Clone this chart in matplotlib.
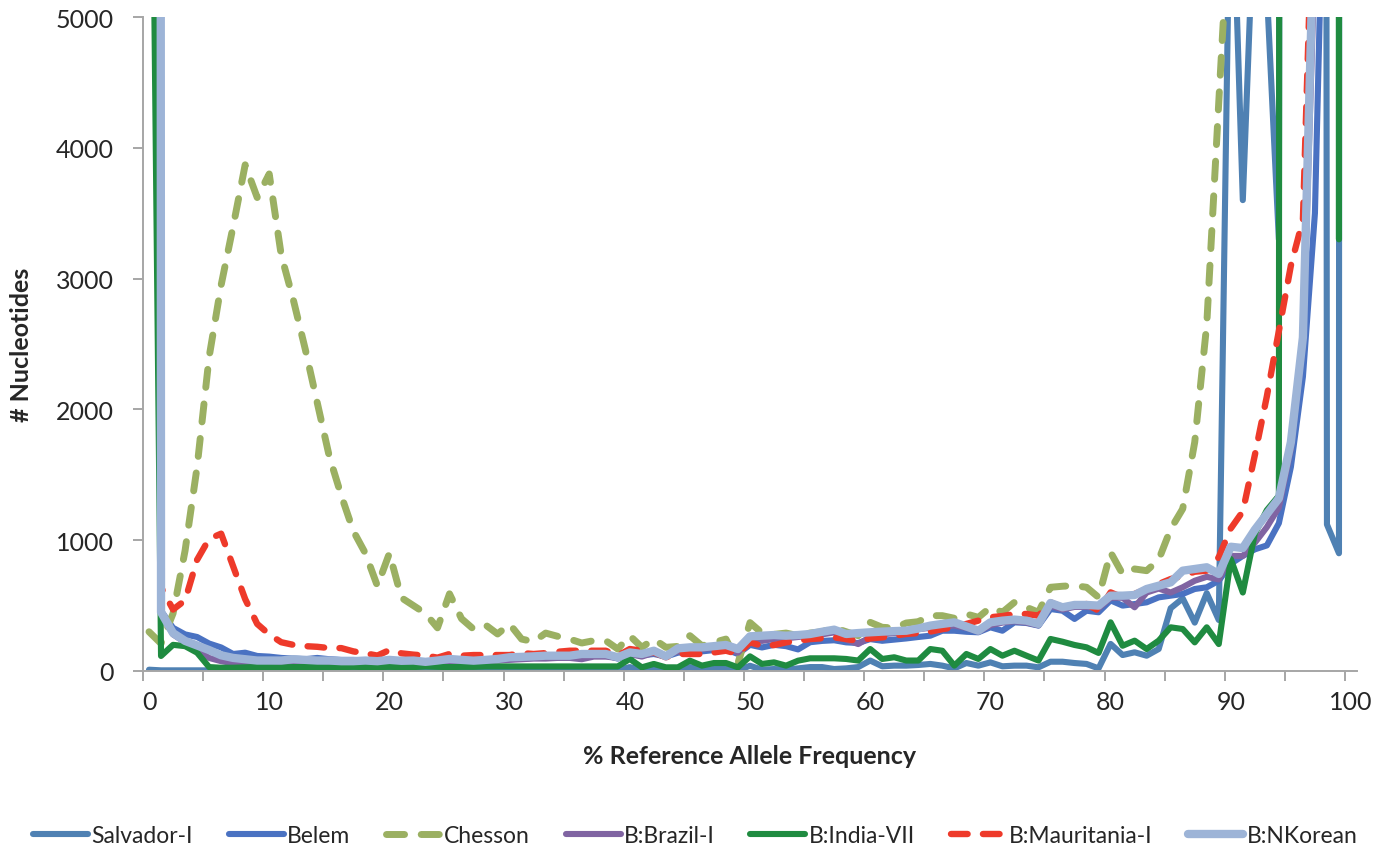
import numpy as np
import matplotlib
matplotlib.use("Agg")
import matplotlib.pyplot as plt

# ---------------- data ----------------
bins = list(range(101))  # % reference allele frequency bins (category i drawn at i+0.5)

salvador = [10, 5, 5, 5, 5, 5, 5, 5, 5, 5,
            5, 5, 5, 5, 5, 5, 5, 5, 5, 5,
            5, 5, 5, 5, 5, 5, 5, 5, 5, 5,
            5, 5, 5, 5, 5, 5, 5, 5, 5, 5,
            30, 5, 20, 5, 5, 30, 10, 15, 15, 5,
            40, 10, 15, 10, 20, 30, 30, 15, 20, 30,
            80, 36, 41, 41, 46, 54, 41, 20, 61, 41,
            66, 36, 41, 41, 28, 71, 71, 61, 54, 20,
            207, 122, 143, 117, 168, 480, 555, 370, 595, 390,
            6500, 3600, 6000, 5200, 3300, 60000, 90000, 100000, 1120, 900,
            300000]

belem = [150000, 460, 330, 280, 260, 210, 180, 130, 140, 115,
         110, 100, 95, 90, 100, 90, 85, 85, 80, 80,
         85, 80, 75, 70, 75, 80, 75, 75, 80, 85,
         90, 95, 100, 100, 105, 110, 115, 115, 120, 95,
         125, 120, 130, 110, 140, 145, 150, 160, 165, 130,
         200, 180, 200, 190, 165, 220, 230, 235, 219, 214,
         244, 231, 240, 249, 260, 270, 308, 308, 300, 296,
         334, 308, 372, 367, 347, 474, 461, 398, 461, 449,
         540, 500, 512, 525, 563, 576, 589, 627, 640, 690,
         820, 880, 930, 960, 1130, 1560, 2250, 3500, 7300, 20000,
         200000]

chesson = [300, 210, 440, 920, 1560, 2400, 2950, 3400, 3870, 3620,
           3800, 3180, 2840, 2460, 2050, 1640, 1340, 1070, 900, 650,
           900, 560, 500, 440, 330, 590, 400, 320, 352, 283,
           359, 244, 224, 290, 265, 244, 214, 232, 232, 168,
           270, 181, 244, 181, 188, 270, 193, 219, 244, 60,
           370, 290, 280, 290, 270, 290, 300, 330, 300, 270,
           372, 334, 329, 367, 377, 423, 423, 403, 436, 410,
           487, 449, 525, 487, 449, 640, 648, 653, 640, 563,
           907, 741, 780, 767, 850, 1086, 1240, 1750, 2650, 4350,
           6000, 9000, 14000, 20000, 30000, 45000, 70000, 100000, 150000, 250000,
           400000]

brazil = [150000, 440, 280, 220, 160, 100, 75, 60, 55, 55,
          50, 55, 60, 55, 55, 60, 55, 60, 60, 55,
          60, 60, 65, 60, 60, 70, 65, 70, 75, 80,
          85, 90, 95, 95, 100, 100, 90, 110, 110, 100,
          130, 110, 140, 120, 150, 160, 170, 175, 180, 140,
          240, 230, 245, 250, 260, 270, 280, 295, 240, 206,
          260, 280, 290, 300, 320, 330, 340, 347, 330, 300,
          350, 370, 380, 370, 350, 500, 470, 490, 490, 480,
          560, 560, 487, 600, 630, 600, 640, 690, 720, 700,
          880, 880, 980, 1100, 1250, 1700, 2500, 5500, 60000, 100000,
          200000]

india = [9000, 115, 200, 190, 140, 30, 25, 25, 28, 30,
         30, 28, 30, 30, 30, 28, 30, 32, 30, 30,
         32, 30, 30, 35, 32, 30, 32, 32, 35, 35,
         35, 35, 35, 35, 35, 35, 35, 35, 35, 35,
         92, 28, 54, 28, 28, 79, 41, 61, 61, 28,
         112, 54, 66, 41, 79, 97, 97, 97, 92, 80,
         168, 92, 105, 80, 80, 168, 155, 41, 130, 92,
         168, 117, 155, 117, 80, 245, 224, 199, 181, 138,
         372, 193, 232, 168, 232, 334, 321, 219, 334, 206,
         856, 600, 1050, 1230, 1340, 150000, 200000, 200000, 200000, 3300,
         300000]

mauritania = [150000, 640, 470, 540, 850, 1010, 1050, 800, 550, 360,
              280, 220, 200, 190, 185, 175, 175, 150, 135, 118,
              160, 135, 125, 118, 102, 130, 117, 122, 122, 122,
              122, 137, 130, 137, 147, 155, 155, 155, 155, 117,
              168, 155, 142, 105, 130, 130, 130, 142, 155, 130,
              219, 193, 198, 219, 232, 244, 250, 257, 244, 231,
              249, 257, 270, 283, 290, 301, 320, 334, 360, 385,
              411, 420, 436, 436, 423, 525, 487, 495, 512, 461,
              601, 563, 589, 627, 665, 703, 728, 759, 767, 870,
              1090, 1220, 1650, 2100, 2600, 3100, 3450, 6500, 20000, 50000,
              200000]

nkorean = [200000, 450, 290, 230, 195, 160, 120, 100, 90, 80,
           80, 80, 90, 85, 80, 80, 75, 75, 80, 75,
           85, 78, 80, 70, 80, 92, 85, 79, 85, 92,
           105, 108, 112, 117, 117, 117, 130, 130, 130, 105,
           142, 130, 155, 112, 173, 181, 181, 190, 199, 168,
           265, 270, 275, 270, 275, 283, 300, 316, 283, 290,
           296, 301, 305, 308, 325, 347, 360, 372, 340, 308,
           372, 385, 393, 385, 360, 520, 487, 505, 505, 500,
           576, 576, 581, 627, 652, 678, 767, 780, 793, 742,
           950, 940, 1080, 1200, 1320, 1750, 2550, 6000, 80000, 150000,
           300000]

series_names = ["Salvador-I", "Belem", "Chesson", "B:Brazil-I",
                "B:India-VII", "B:Mauritania-I", "B:NKorean"]
x_labels = ["0", "10", "20", "30", "40", "50", "60", "70", "80", "90", "100"]
y_ticks = [0, 1000, 2000, 3000, 4000, 5000]

# ---------------- styling ----------------
plt.rcParams['font.family'] = ['Lato', 'DejaVu Sans']

fig = plt.figure(figsize=(13.85, 8.53), dpi=100)
ax = fig.add_axes([143 / 1385, 1 - 672 / 853, (1357 - 143) / 1385, (672 - 18) / 853])

x = np.array(bins) + 0.5
data = [salvador, belem, chesson, brazil, india, mauritania, nkorean]
colors = ['#4F81B3', '#4A72C2', '#9BB062', '#8064A2', '#1F8B40', '#EE3A2A', '#9DB4D7']
widths = [4.4, 4.4, 5.0, 4.4, 4.4, 4.6, 6.0]
dashed = [False, False, True, False, False, True, False]

for vals, name, c, lw, d in zip(data, series_names, colors, widths, dashed):
    kw = dict(color=c, lw=lw, label=name, solid_joinstyle='round', solid_capstyle='round',
              dash_joinstyle='round', dash_capstyle='round')
    if d:
        kw['dashes'] = (2.6, 2.4)
    ax.plot(x, vals, **kw)

ax.set_xlim(0, 101)
ax.set_ylim(0, 5000)

for s in ['top', 'right']:
    ax.spines[s].set_visible(False)
for s in ['left', 'bottom']:
    ax.spines[s].set_color('#A6A6A6')
    ax.spines[s].set_linewidth(1.4)

ax.set_xticks(np.arange(0, 101, 5))
ax.set_xticklabels([''] * 21)
ax.set_xticks(np.arange(0, 101, 10) + 0.5, minor=True)
ax.set_xticklabels(x_labels, minor=True, fontsize=18, color='#262626')
ax.tick_params(axis='x', which='major', length=7, width=1.4, color='#A6A6A6', direction='out')
ax.tick_params(axis='x', which='minor', length=0, pad=14)

ax.set_yticks(y_ticks)
ax.set_yticklabels([str(v) for v in y_ticks], fontsize=18, color='#262626')
ax.tick_params(axis='y', length=7, width=1.4, color='#A6A6A6', direction='out', pad=14)

fig.text(750 / 1385, 1 - 757 / 853, "% Reference Allele Frequency", ha='center', va='center',
         fontsize=18, fontweight='bold', color='#262626')
fig.text(22 / 1385, 1 - 345 / 853, "# Nucleotides", ha='center', va='center', rotation=90,
         fontsize=18, fontweight='bold', color='#262626')

leg = fig.legend(loc='center', bbox_to_anchor=(0.502, 1 - 837 / 853), ncol=7, frameon=False,
                 fontsize=16.5, handlelength=2.4, handletextpad=0.15, columnspacing=1.55,
                 borderpad=0.1, borderaxespad=0.1)
for t in leg.get_texts():
    t.set_color('#262626')

fig.savefig("out.png", dpi=100)
